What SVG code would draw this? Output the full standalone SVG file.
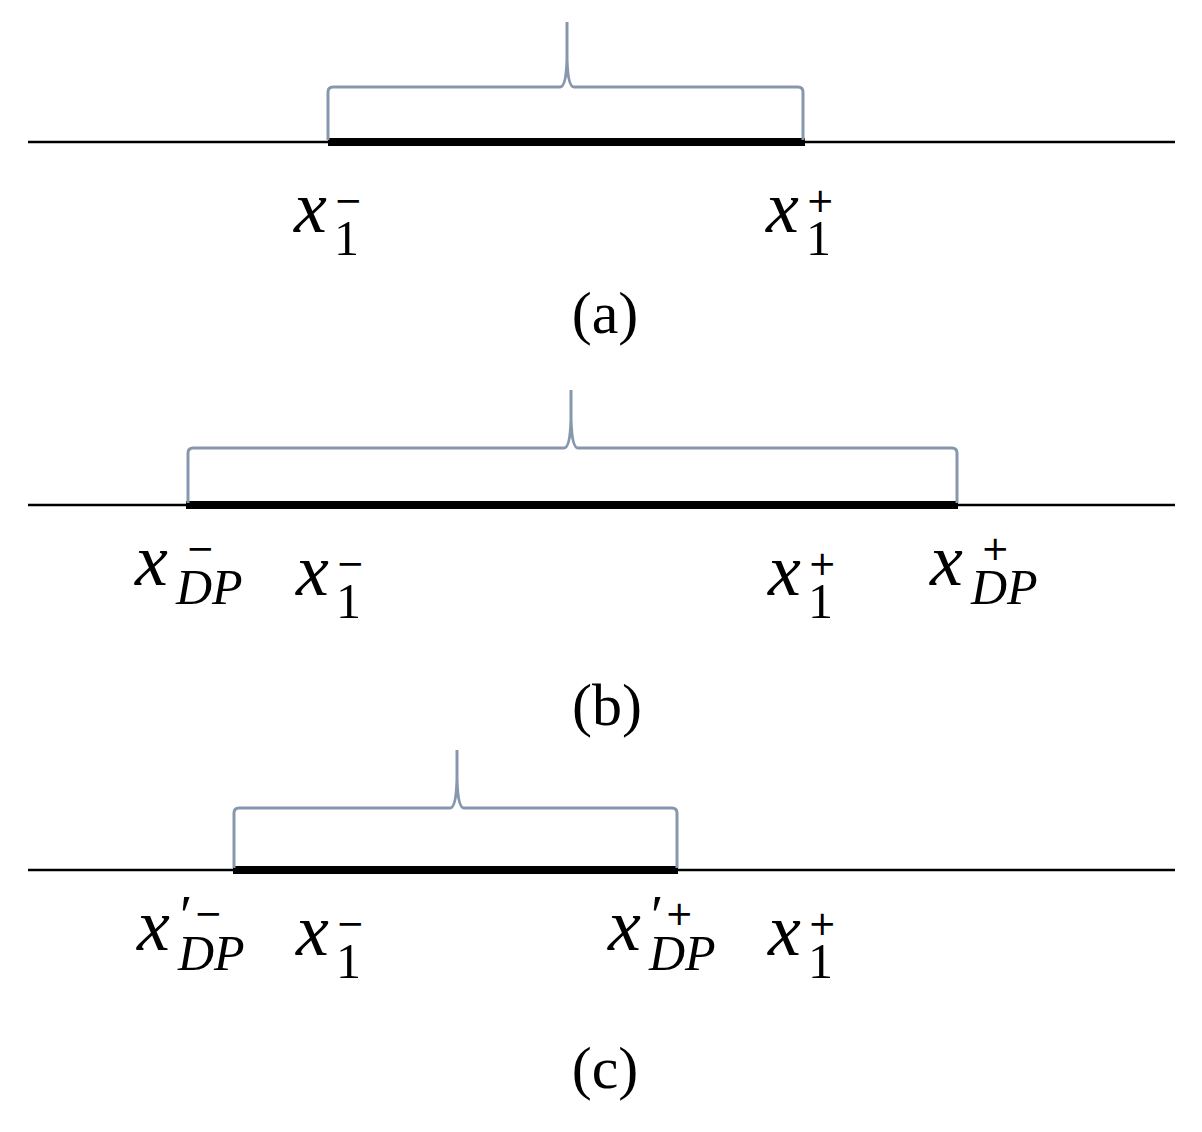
<svg xmlns="http://www.w3.org/2000/svg" width="1202" height="1132" viewBox="0 0 1202 1132">
<style>
.ax{stroke:#000;stroke-width:2.5}
.th{stroke:#000;stroke-width:8}
.br{fill:none;stroke:#8797ad;stroke-width:3}
.m{font-family:"Liberation Serif",serif;font-style:italic;font-size:74px;fill:#000}
.sub{font-family:"Liberation Serif",serif;font-size:50px;fill:#000}
.si{font-style:italic}
.sup{font-family:"DejaVu Sans",sans-serif;font-size:34px;fill:#000}
.pr{font-family:"Liberation Serif",serif;font-size:56px;fill:#000}
.cap{font-family:"Liberation Serif",serif;font-size:60px;fill:#000;text-anchor:middle}
</style>
<rect width="1202" height="1132" fill="#fff"/>
<g id="connectors">
<line class="ax" x1="28" y1="142" x2="1175" y2="142"/>
<line class="th" x1="328" y1="142" x2="805" y2="142"/>
<line class="ax" x1="28" y1="505" x2="1175" y2="505"/>
<line class="th" x1="186" y1="505" x2="958" y2="505"/>
<line class="ax" x1="28" y1="870" x2="1175" y2="870"/>
<line class="th" x1="233" y1="870" x2="678" y2="870"/>
</g>
<g id="brace-a"><path class="br" d="M328,140 V92 Q328,87 333,87 H560 Q566,87 567,60 L567,22 M567,60 Q568,87 574,87 H798 Q803,87 803,92 V140"/></g>
<g id="brace-b"><path class="br" d="M188,503 V453 Q188,448 193,448 H564 Q570,448 571,420 L571,390 M571,420 Q572,448 578,448 H952 Q957,448 957,453 V503"/></g>
<g id="brace-c"><path class="br" d="M234,868 V813 Q234,808 239,808 H450 Q456,808 457,780 L457,750 M457,780 Q458,808 464,808 H672 Q677,808 677,813 V868"/></g>
<g id="labels-a">
<text class="m" x="294" y="232">x</text><text class="sub" x="334" y="255">1</text><text class="sup" x="334" y="212">−</text>
<text class="m" x="766" y="232">x</text><text class="sub" x="806" y="255">1</text><text class="sup" x="806" y="212">+</text>
<text class="cap" x="605" y="333">(a)</text>
</g>
<g id="labels-b">
<text class="m" x="135" y="585">x</text><text class="sub si" x="176" y="604">DP</text><text class="sup" x="186" y="560">−</text>
<text class="m" x="296" y="595">x</text><text class="sub" x="336" y="618">1</text><text class="sup" x="336" y="575">−</text>
<text class="m" x="768" y="595">x</text><text class="sub" x="808" y="618">1</text><text class="sup" x="808" y="575">+</text>
<text class="m" x="930" y="585">x</text><text class="sub si" x="971" y="604">DP</text><text class="sup" x="981" y="560">+</text>
<text class="cap" x="607" y="725">(b)</text>
</g>
<g id="labels-c">
<text class="m" x="137" y="950">x</text><text class="sub si" x="178" y="970">DP</text><text class="pr" x="180" y="935">′</text><text class="sup" x="194" y="925">−</text>
<text class="m" x="296" y="955">x</text><text class="sub" x="336" y="978">1</text><text class="sup" x="336" y="935">−</text>
<text class="m" x="608" y="950">x</text><text class="sub si" x="649" y="970">DP</text><text class="pr" x="651" y="935">′</text><text class="sup" x="665" y="925">+</text>
<text class="m" x="768" y="955">x</text><text class="sub" x="808" y="978">1</text><text class="sup" x="808" y="935">+</text>
<text class="cap" x="605" y="1088">(c)</text>
</g>
</svg>
